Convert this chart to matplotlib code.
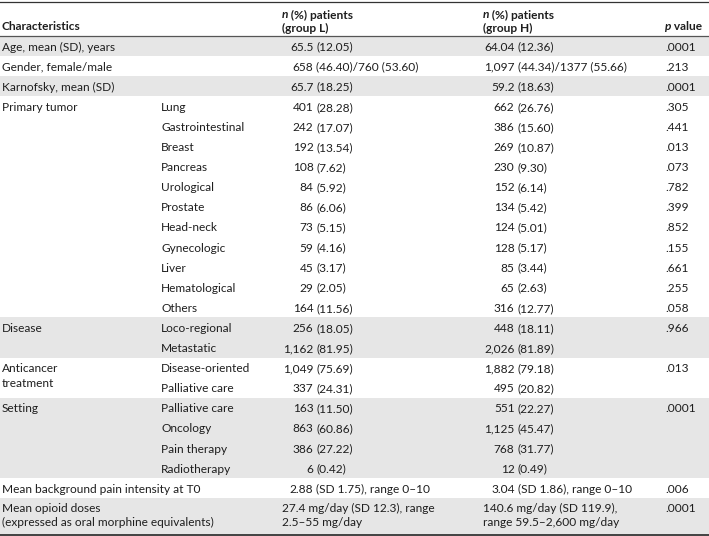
import matplotlib.pyplot as plt
from matplotlib.patches import Rectangle

# ---- table content ----
main_labels = ["Age, mean (SD), years", "Gender, female/male", "Karnofsky, mean (SD)",
               "Primary tumor", "Disease", "Anticancer\ntreatment", "Setting",
               "Mean background pain intensity at T0",
               "Mean opioid doses\n(expressed as oral morphine equivalents)"]

sub_labels = [[""], [""], [""],
              ["Lung", "Gastrointestinal", "Breast", "Pancreas", "Urological", "Prostate",
               "Head-neck", "Gynecologic", "Liver", "Hematological", "Others"],
              ["Loco-regional", "Metastatic"],
              ["Disease-oriented", "Palliative care"],
              ["Palliative care", "Oncology", "Pain therapy", "Radiotherapy"],
              [""], [""]]

group_l = [["65.5 (12.05)"], ["658 (46.40)/760 (53.60)"], ["65.7 (18.25)"],
           ["401 (28.28)", "242 (17.07)", "192 (13.54)", "108 (7.62)", "84 (5.92)", "86 (6.06)",
            "73 (5.15)", "59 (4.16)", "45 (3.17)", "29 (2.05)", "164 (11.56)"],
           ["256 (18.05)", "1,162 (81.95)"],
           ["1,049 (75.69)", "337 (24.31)"],
           ["163 (11.50)", "863 (60.86)", "386 (27.22)", "6 (0.42)"],
           ["2.88 (SD 1.75), range 0\u201310"],
           ["27.4 mg/day (SD 12.3), range\n2.5\u201355 mg/day"]]

group_h = [["64.04 (12.36)"], ["1,097 (44.34)/1377 (55.66)"], ["59.2 (18.63)"],
           ["662 (26.76)", "386 (15.60)", "269 (10.87)", "230 (9.30)", "152 (6.14)", "134 (5.42)",
            "124 (5.01)", "128 (5.17)", "85 (3.44)", "65 (2.63)", "316 (12.77)"],
           ["448 (18.11)", "2,026 (81.89)"],
           ["1,882 (79.18)", "495 (20.82)"],
           ["551 (22.27)", "1,125 (45.47)", "768 (31.77)", "12 (0.49)"],
           ["3.04 (SD 1.86), range 0\u201310"],
           ["140.6 mg/day (SD 119.9),\nrange 59.5\u20132,600 mg/day"]]

p_values = [[".0001"], [".213"], [".0001"],
            [".305", ".441", ".013", ".073", ".782", ".399", ".852", ".155", ".661", ".255", ".058"],
            [".966", ""], [".013", ""], [".0001", "", "", ""], [".006"], [".0001"]]

# ---- layout (pixels) ----
W, H = 709, 536
FONT = "Lato"
FS = 8.6
TXT = "#1e1e1e"
SHADE = "#e6e6e6"
x_main, x_sub, x_l, x_h, x_p = 2, 161, 282, 483, 665
anchor_l, anchor_h = 316.5, 517.5
header_bottom = 36
pitch = 20.1
line_gap = 14.5

fig = plt.figure(figsize=(W / 100, H / 100), dpi=100)
ax = fig.add_axes([0, 0, 1, 1])
ax.set_xlim(0, W)
ax.set_ylim(H, 0)
ax.axis("off")
renderer = fig.canvas.get_renderer()


def put(x, y, s, ha="left", **kw):
    return ax.text(x, y, s, ha=ha, va="center", fontsize=FS, family=FONT, color=TXT, **kw)


def put_after(t, y, s, **kw):
    # place s right after text t (same line)
    bb = t.get_window_extent(renderer)
    x_end = ax.transData.inverted().transform((bb.x1, bb.y0))[0]
    return put(x_end, y, s, **kw)


def put_value(x_left, anchor, y, s):
    # values are lined up on their opening bracket
    if "\n" in s:
        for k, line in enumerate(s.split("\n")):
            put(x_left, y + k * line_gap, line)
        return
    if " (" in s:
        pre, post = s.split(" (", 1)
        put(anchor - 3, y, pre, ha="right")
        put(anchor, y, "(" + post)
    else:
        put(x_left, y, s)


# header
put(x_main, 26, "Characteristics", weight="bold")
for xx, grp in [(x_l, "L"), (x_h, "H")]:
    t = put(xx, 15, "n", weight="bold", style="italic")
    put_after(t, 15, " (%) patients", weight="bold")
    put(xx, 28, "(group %s)" % grp, weight="bold")
t = put(x_p, 26, "p", weight="bold", style="italic")
put_after(t, 26, " value", weight="bold")

# body
y = header_bottom + 1
for i, label in enumerate(main_labels):
    n_sub = len(sub_labels[i])
    tall = "\n" in group_l[i][0]
    h = 36 if tall else n_sub * pitch
    if i % 2 == 0:
        ax.add_patch(Rectangle((0, y - 1), W, h, color=SHADE, lw=0, zorder=0))
    first = y + (8.7 if tall else pitch / 2)
    for k, line in enumerate(label.split("\n")):
        put(x_main, first + k * line_gap, line)
    for j in range(n_sub):
        yy = first + j * pitch
        put(x_sub, yy, sub_labels[i][j])
        put_value(x_l, anchor_l, yy, group_l[i][j])
        put_value(x_h, anchor_h, yy, group_h[i][j])
        put(x_p, yy, p_values[i][j])
    y += h

ax.axhline(1.5, color="#333333", lw=0.9)
ax.axhline(header_bottom, color="#555555", lw=0.9)
ax.axhline(534.5, color="#333333", lw=1.3)

fig.savefig("out.png", dpi=100)
